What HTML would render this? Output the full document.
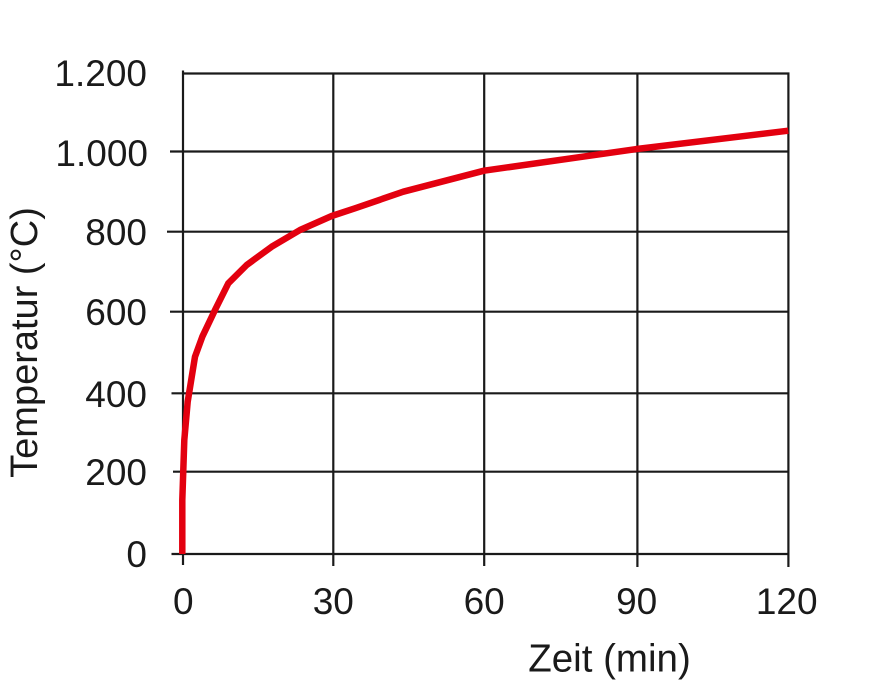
<!DOCTYPE html>
<html>
<head>
<meta charset="utf-8">
<style>
  html, body { margin:0; padding:0; background:#fff; }
  svg { display:block; }
  text { font-family: "Liberation Sans", Arial, sans-serif; fill:#1a1a1a; }
</style>
</head>
<body>
<svg width="872" height="695" viewBox="0 0 872 695" xmlns="http://www.w3.org/2000/svg">
  <rect width="872" height="695" fill="#fff"/>
  <g stroke="#1a1a1a" stroke-width="2.2" fill="none" stroke-linecap="butt">
    <!-- horizontal grid -->
    <line x1="183" y1="73.5" x2="789.5" y2="73.5"/>
    <line x1="170" y1="151.5" x2="789.5" y2="151.5"/>
    <line x1="167" y1="231.7" x2="789.5" y2="231.7"/>
    <line x1="170" y1="311.7" x2="789.5" y2="311.7"/>
    <line x1="171.5" y1="393.3" x2="789.5" y2="393.3"/>
    <line x1="173" y1="471.7" x2="789.5" y2="471.7"/>
    <line x1="171.5" y1="554" x2="789.5" y2="554"/>
    <!-- vertical grid -->
    <line x1="183" y1="70.5" x2="183" y2="565"/>
    <line x1="333.3" y1="72.5" x2="333.3" y2="566"/>
    <line x1="484.2" y1="72.5" x2="484.2" y2="566"/>
    <line x1="637.4" y1="72.5" x2="637.4" y2="567"/>
    <line x1="788.4" y1="72.5" x2="788.4" y2="567"/>
  </g>
  <!-- curve -->
  <polyline fill="none" stroke="#e3000f" stroke-width="6.5" stroke-linejoin="round" stroke-linecap="butt"
    points="182.3,554 182.3,500 184.3,440 187.7,401.7 195,356.7 202.3,336.7 215,310 228.3,283.3 246.7,265 271.7,246.7 300,230 331.7,216 355,208.3 403.3,191.7 484,170.7 636.7,149 788.3,130.7"/>
  <!-- y tick labels -->
  <g font-size="37" text-anchor="end">
    <text x="147" y="86">1.200</text>
    <text x="148" y="166">1.000</text>
    <text x="147" y="245">800</text>
    <text x="147" y="325">600</text>
    <text x="147" y="407">400</text>
    <text x="147" y="485">200</text>
    <text x="147" y="567">0</text>
  </g>
  <!-- x tick labels -->
  <g font-size="37" text-anchor="middle">
    <text x="183.3" y="614">0</text>
    <text x="333.3" y="614">30</text>
    <text x="484.2" y="614">60</text>
    <text x="636.7" y="614">90</text>
    <text x="786.7" y="614">120</text>
  </g>
  <!-- axis titles -->
  <text x="609.5" y="671.5" font-size="38.5" text-anchor="middle">Zeit (min)</text>
  <text transform="translate(37,342.5) rotate(-90)" font-size="38" text-anchor="middle">Temperatur (°C)</text>
</svg>
</body>
</html>
